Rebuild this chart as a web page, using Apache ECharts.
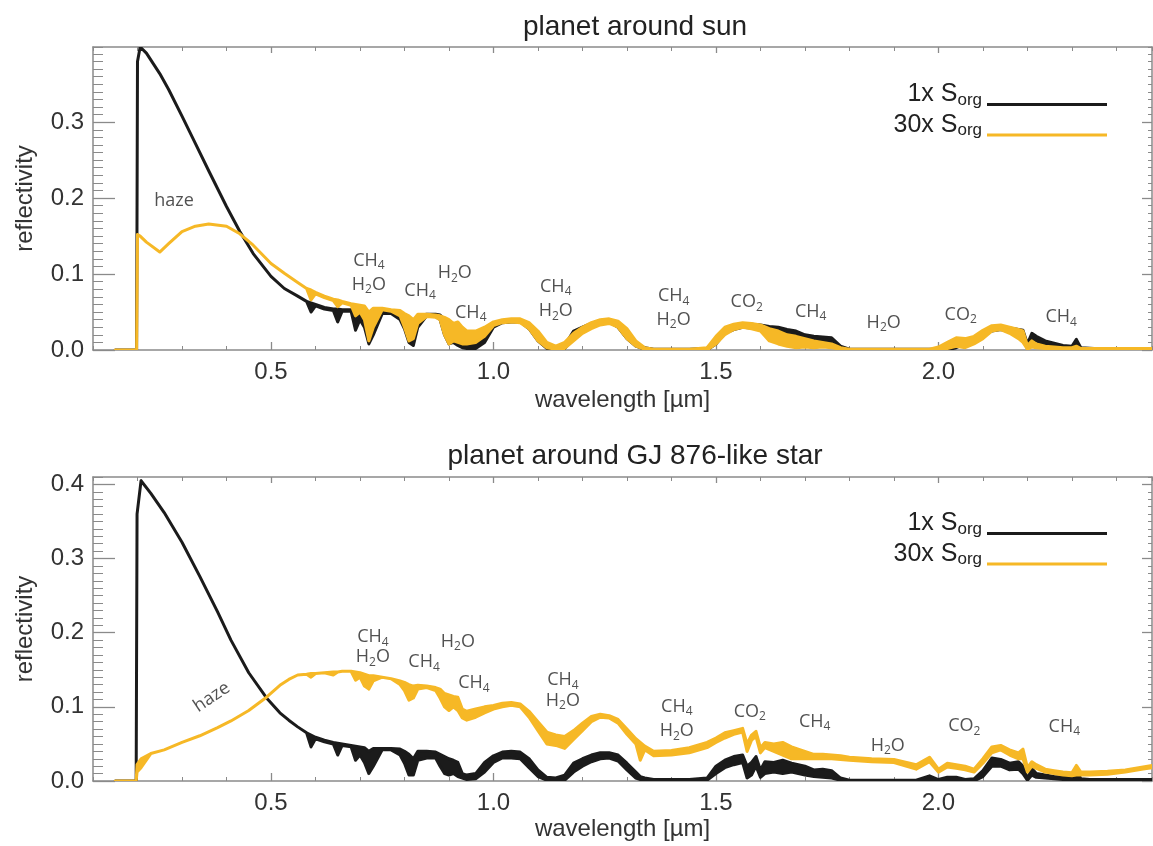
<!DOCTYPE html>
<html><head><meta charset="utf-8">
<script src="https://cdn.jsdelivr.net/npm/echarts@6/dist/echarts.min.js"></script>
<style>html,body{margin:0;padding:0;background:#fff}#c{width:1153px;height:846px}</style>
</head><body><div id="c"></div><script>
// ---------- data ----------
const xMajorTicks = [0.5, 1.0, 1.5, 2.0];
const yTicksTop = [0.0, 0.1, 0.2, 0.3];
const yTicksBottom = [0.0, 0.1, 0.2, 0.3, 0.4];
const legendNames = ['1x', '30x'];

// planet around sun
const lamTop = [
 0.15,0.198,0.2,0.206,0.22,0.25,0.27,0.3,0.33,0.36,
 0.4,0.43,0.46,0.5,0.53,0.56,0.58,0.59,0.6,0.62,
 0.64,0.65,0.66,0.68,0.69,0.70,0.71,0.72,0.73,0.75,
 0.77,0.79,0.80,0.81,0.82,0.83,0.85,0.87,0.88,0.89,
 0.90,0.91,0.92,0.93,0.94,0.96,0.98,1.00,1.02,1.04,
 1.06,1.08,1.10,1.12,1.14,1.16,1.18,1.20,1.22,1.24,
 1.26,1.28,1.30,1.32,1.34,1.36,1.40,1.44,1.48,1.50,
 1.52,1.54,1.56,1.58,1.60,1.62,1.64,1.66,1.68,1.70,
 1.72,1.74,1.76,1.78,1.80,1.85,1.90,1.95,1.98,2.00,
 2.02,2.04,2.06,2.08,2.10,2.12,2.14,2.16,2.18,2.19,
 2.20,2.21,2.22,2.24,2.26,2.28,2.30,2.31,2.32,2.35,
 2.40,2.45,2.48];
const blackTopHi = [
 0,0,0.38,0.399,0.391,0.364,0.343,0.308,0.272,0.236,
 0.189,0.156,0.127,0.097,0.081,0.071,0.064,0.062,0.060,0.056,
 0.054,0.054,0.053,0.053,0.053,0.052,0.050,0.040,0.045,0.050,
 0.050,0.049,0.045,0.040,0.035,0.045,0.047,0.047,0.046,0.040,
 0.035,0.030,0.025,0.010,0.006,0.006,0.020,0.035,0.039,0.040,
 0.040,0.033,0.018,0.006,0.003,0.006,0.025,0.030,0.035,0.039,
 0.040,0.035,0.020,0.009,0.003,0.001,0.001,0.001,0.002,0.015,
 0.028,0.032,0.035,0.034,0.033,0.031,0.030,0.027,0.025,0.020,
 0.018,0.017,0.016,0.005,0.001,0.001,0.001,0.001,0.001,0.001,
 0.003,0.008,0.014,0.016,0.024,0.030,0.031,0.029,0.027,0.026,
 0.008,0.022,0.018,0.012,0.009,0.006,0.005,0.014,0.003,0.002,
 0.002,0.002,0.002];
const blackTopLo = [
 0,0,0.38,0.399,0.391,0.364,0.343,0.308,0.272,0.236,
 0.189,0.156,0.127,0.097,0.081,0.071,0.064,0.050,0.058,0.054,
 0.052,0.037,0.051,0.051,0.026,0.040,0.030,0.008,0.020,0.048,
 0.048,0.040,0.028,0.010,0.006,0.030,0.045,0.044,0.040,0.020,
 0.008,0.010,0.006,0.003,0.002,0.002,0.010,0.030,0.036,0.037,
 0.037,0.028,0.012,0.002,0.001,0.002,0.015,0.025,0.030,0.035,
 0.037,0.030,0.015,0.005,0.001,0,0,0,0,0.008,
 0.022,0.027,0.030,0.029,0.028,0.025,0.022,0.018,0.015,0.012,
 0.012,0.010,0.010,0.002,0,0,0,0,0,0,
 0,0.003,0.008,0.010,0.018,0.025,0.027,0.024,0.020,0.015,
 0.002,0.015,0.012,0.007,0.005,0.003,0.002,0.004,0.001,0,
 0,0,0];
const orangeTopHi = [
 0,0,0.152,0.150,0.142,0.129,0.140,0.156,0.163,0.166,
 0.163,0.153,0.138,0.114,0.101,0.089,0.081,0.079,0.076,0.071,
 0.067,0.066,0.064,0.061,0.060,0.059,0.058,0.050,0.055,0.055,
 0.053,0.052,0.048,0.045,0.040,0.047,0.047,0.046,0.045,0.043,
 0.040,0.035,0.037,0.030,0.025,0.025,0.030,0.037,0.040,0.041,
 0.041,0.036,0.025,0.010,0.005,0.010,0.022,0.030,0.036,0.040,
 0.041,0.038,0.028,0.012,0.003,0.001,0.001,0.001,0.003,0.018,
 0.030,0.034,0.036,0.035,0.033,0.028,0.025,0.020,0.018,0.015,
 0.012,0.010,0.008,0.003,0.001,0.001,0.001,0.001,0.001,0.004,
 0.010,0.016,0.015,0.018,0.026,0.032,0.033,0.030,0.027,0.025,
 0.006,0.012,0.008,0.005,0.004,0.003,0.003,0.005,0.002,0.002,
 0.002,0.002,0.002];
const orangeTopLo = [
 0,0,0.152,0.150,0.142,0.129,0.140,0.156,0.163,0.166,
 0.163,0.153,0.138,0.114,0.101,0.089,0.081,0.066,0.074,0.069,
 0.065,0.057,0.062,0.059,0.045,0.050,0.040,0.012,0.030,0.053,
 0.051,0.045,0.030,0.012,0.015,0.035,0.044,0.043,0.040,0.020,
 0.008,0.012,0.010,0.008,0.008,0.010,0.018,0.032,0.036,0.037,
 0.036,0.028,0.012,0.003,0.001,0.002,0.012,0.022,0.028,0.033,
 0.035,0.030,0.015,0.005,0.001,0,0,0,0,0.008,
 0.020,0.027,0.030,0.028,0.025,0.012,0.008,0.005,0.003,0.004,
 0.003,0.004,0.003,0.001,0,0,0,0,0,0,
 0.002,0.005,0.003,0.008,0.015,0.025,0.027,0.022,0.015,0.010,
 0.001,0.004,0.003,0.002,0.001,0.001,0.001,0.001,0.001,0,
 0,0,0];

// planet around GJ 876-like star
const lamBot = [
 0.15,0.197,0.199,0.208,0.23,0.26,0.30,0.34,0.38,0.41,
 0.45,0.49,0.52,0.54,0.56,0.58,0.59,0.60,0.62,0.64,
 0.65,0.66,0.68,0.69,0.70,0.71,0.72,0.73,0.75,0.77,
 0.79,0.80,0.81,0.82,0.83,0.85,0.87,0.88,0.89,0.90,
 0.91,0.92,0.93,0.94,0.96,0.98,1.00,1.02,1.04,1.06,
 1.08,1.10,1.12,1.14,1.16,1.18,1.20,1.22,1.24,1.26,
 1.28,1.30,1.32,1.33,1.34,1.36,1.40,1.44,1.48,1.50,
 1.52,1.54,1.56,1.57,1.58,1.59,1.60,1.61,1.63,1.65,
 1.67,1.70,1.72,1.74,1.76,1.78,1.80,1.85,1.90,1.95,
 1.98,2.00,2.02,2.04,2.06,2.08,2.10,2.12,2.14,2.16,
 2.18,2.19,2.20,2.21,2.22,2.24,2.26,2.28,2.30,2.31,
 2.32,2.34,2.38,2.42,2.46,2.48];
const blackBotHi = [
 0,0,0.36,0.405,0.388,0.362,0.322,0.276,0.228,0.190,
 0.146,0.112,0.092,0.082,0.073,0.065,0.062,0.059,0.055,0.052,
 0.051,0.050,0.048,0.047,0.046,0.045,0.040,0.044,0.044,0.044,
 0.043,0.040,0.036,0.030,0.040,0.040,0.039,0.036,0.033,0.030,
 0.028,0.025,0.010,0.008,0.010,0.025,0.034,0.039,0.040,0.039,
 0.030,0.015,0.005,0.004,0.008,0.024,0.030,0.035,0.038,0.038,
 0.035,0.024,0.012,0.006,0.004,0.002,0.002,0.002,0.004,0.020,
 0.028,0.033,0.035,0.020,0.025,0.033,0.015,0.026,0.025,0.028,
 0.024,0.020,0.015,0.016,0.014,0.004,0.001,0.001,0.001,0.001,
 0.007,0.002,0.005,0.005,0.002,0.003,0.014,0.031,0.029,0.024,
 0.026,0.020,0.003,0.017,0.010,0.008,0.006,0.005,0.004,0.015,
 0.003,0.002,0.002,0.002,0.002,0.002];
const blackBotLo = [
 0,0,0.36,0.405,0.388,0.362,0.322,0.276,0.228,0.190,
 0.146,0.112,0.092,0.082,0.073,0.065,0.046,0.057,0.053,0.050,
 0.035,0.048,0.046,0.028,0.035,0.025,0.010,0.020,0.042,0.042,
 0.035,0.024,0.008,0.008,0.028,0.031,0.031,0.020,0.010,0.008,
 0.010,0.006,0.004,0.002,0.003,0.012,0.025,0.031,0.031,0.030,
 0.018,0.006,0.001,0.001,0.001,0.012,0.020,0.026,0.030,0.031,
 0.027,0.015,0.004,0.002,0.001,0,0,0,0.001,0.010,
 0.018,0.022,0.025,0.004,0.008,0.020,0.005,0.010,0.012,0.010,
 0.012,0.008,0.006,0.005,0.004,0.001,0,0,0,0,
 0.001,0,0.002,0.002,0,0,0.006,0.020,0.020,0.015,
 0.016,0.010,0.001,0.008,0.005,0.004,0.003,0.002,0.001,0.002,
 0.001,0,0,0,0,0];
const orangeBotHi = [
 0,0,0.022,0.030,0.037,0.042,0.052,0.061,0.072,0.081,
 0.095,0.113,0.129,0.137,0.143,0.144,0.145,0.145,0.146,0.147,
 0.147,0.148,0.148,0.147,0.146,0.144,0.142,0.142,0.140,0.138,
 0.135,0.133,0.130,0.128,0.129,0.128,0.126,0.124,0.118,0.116,
 0.114,0.113,0.097,0.094,0.097,0.100,0.102,0.105,0.106,0.104,
 0.094,0.080,0.066,0.062,0.060,0.068,0.078,0.087,0.090,0.088,
 0.083,0.070,0.057,0.052,0.047,0.040,0.041,0.045,0.052,0.058,
 0.065,0.068,0.071,0.050,0.062,0.067,0.045,0.052,0.050,0.052,
 0.046,0.040,0.036,0.036,0.035,0.034,0.032,0.030,0.029,0.022,
 0.032,0.016,0.024,0.022,0.020,0.016,0.030,0.046,0.048,0.042,
 0.038,0.043,0.018,0.026,0.022,0.016,0.014,0.012,0.011,0.021,
 0.012,0.012,0.013,0.015,0.019,0.021];
const orangeBotLo = [
 0,0,0.012,0.018,0.037,0.042,0.052,0.061,0.072,0.081,
 0.095,0.113,0.129,0.137,0.143,0.144,0.140,0.145,0.146,0.143,
 0.147,0.148,0.148,0.136,0.140,0.128,0.124,0.135,0.140,0.138,
 0.130,0.122,0.109,0.112,0.124,0.126,0.122,0.112,0.100,0.095,
 0.100,0.095,0.085,0.082,0.086,0.092,0.097,0.100,0.102,0.100,
 0.086,0.068,0.050,0.048,0.044,0.056,0.068,0.080,0.086,0.085,
 0.078,0.063,0.050,0.028,0.042,0.034,0.035,0.038,0.045,0.052,
 0.058,0.063,0.066,0.040,0.055,0.060,0.038,0.045,0.040,0.035,
 0.030,0.030,0.030,0.030,0.030,0.029,0.028,0.026,0.025,0.016,
 0.026,0.012,0.019,0.017,0.015,0.012,0.024,0.038,0.042,0.035,
 0.030,0.030,0.012,0.020,0.017,0.012,0.010,0.008,0.007,0.008,
 0.008,0.008,0.009,0.012,0.016,0.018];

// annotations
const annTopLam  = [0.282, 0.72, 0.72, 0.835, 0.913, 0.949, 1.14, 1.14, 1.405, 1.405, 1.569, 1.713, 1.877, 2.05, 2.276];
const annTopVal  = [0.196, 0.118, 0.086, 0.078, 0.101, 0.049, 0.083, 0.051, 0.071, 0.040, 0.063, 0.050, 0.036, 0.046, 0.043];
const annTopText = ['haze','CH{s|4}','H{s|2}O','CH{s|4}','H{s|2}O','CH{s|4}','CH{s|4}','H{s|2}O','CH{s|4}','H{s|2}O','CO{s|2}','CH{s|4}','H{s|2}O','CO{s|2}','CH{s|4}'];
const annBotLam  = [0.367, 0.729, 0.729, 0.844, 0.92, 0.956, 1.156, 1.156, 1.412, 1.412, 1.576, 1.722, 1.886, 2.058, 2.283];
const annBotVal  = [0.113, 0.194, 0.167, 0.160, 0.188, 0.132, 0.136, 0.108, 0.100, 0.067, 0.093, 0.080, 0.048, 0.074, 0.073];
const annBotText = ['haze','CH{s|4}','H{s|2}O','CH{s|4}','H{s|2}O','CH{s|4}','CH{s|4}','H{s|2}O','CH{s|4}','H{s|2}O','CO{s|2}','CH{s|4}','H{s|2}O','CO{s|2}','CH{s|4}'];
const annBotRot  = [34,0,0,0,0,0,0,0,0,0,0,0,0,0,0];

// ---------- styling / build ----------
const X_MIN = 0.1, X_MAX = 2.48;
const AX = '#8a8a8a';
const FONT = 'Liberation Sans';
const BLACK = '#1b1b1b';
const ORANGE = '#F6B826';
const ANN = '#262626';

function xMajor(gi, pos, labels, gap) {
  return { type:'value', gridIndex:gi, position:pos, min:X_MIN, max:X_MAX,
    axisLine:{show:true, onZero:false, lineStyle:{color:AX, width:1.5}},
    axisTick:{show:true, inside:true, length: pos==='bottom'?8:6, customValues:xMajorTicks, lineStyle:{color:AX, width:1.3}},
    axisLabel:{show:labels, customValues:xMajorTicks, formatter:v=>v.toFixed(1), fontSize:24, fontFamily:FONT, color:'#333', margin:10},
    splitLine:{show:false},
    name: labels ? 'wavelength [\u00b5m]' : '', nameLocation:'middle', nameGap:gap,
    nameTextStyle:{fontSize:24, fontFamily:FONT, color:'#333'} };
}
function xMinor(gi, pos) {
  return { type:'value', gridIndex:gi, position:pos, min:X_MIN, max:X_MAX, interval:0.1,
    axisLine:{show:false, onZero:false}, axisTick:{show:true, inside:true, length:4, lineStyle:{color:AX, width:1}},
    axisLabel:{show:false}, splitLine:{show:false} };
}
function yMajor(gi, pos, max, ticks, labels) {
  return { type:'value', gridIndex:gi, position:pos, min:0, max:max,
    axisLine:{show:true, onZero:false, lineStyle:{color:AX, width:1.5}},
    axisTick:{show:true, inside:true, length: pos==='left'?22:10, customValues:ticks, lineStyle:{color:AX, width:1.3}},
    axisLabel:{show:labels, customValues:ticks, formatter:v=>v.toFixed(1), fontSize:24, fontFamily:FONT, color:'#333', margin:9},
    splitLine:{show:false},
    name: labels ? 'reflectivity' : '', nameLocation:'middle', nameGap:56,
    nameTextStyle:{fontSize:24, fontFamily:FONT, color:'#333'} };
}
function yMinor(gi, pos, max) {
  return { type:'value', gridIndex:gi, position:pos, min:0, max:max, interval:0.01,
    axisLine:{show:false, onZero:false}, axisTick:{show:true, inside:true, length: pos==='left'?10:4, lineStyle:{color:AX, width:1}},
    axisLabel:{show:false}, splitLine:{show:false} };
}
function band(name, lam, hi, lo, color, ai, z) {
  return { type:'custom', name:name, xAxisIndex:ai, yAxisIndex:ai, z:z, clip:true,
    itemStyle:{color:color}, silent:true,
    data:[[lam[0], hi[0]]],
    renderItem:function(params, api){
      const pts = [];
      for (let i = 0; i < lam.length; i++) pts.push(api.coord([lam[i], hi[i]]));
      for (let i = lam.length - 1; i >= 0; i--) pts.push(api.coord([lam[i], lo[i]]));
      return { type:'polygon', shape:{points:pts},
        style:{fill:color, stroke:color, lineWidth:3, lineJoin:'round'} };
    } };
}
function annotations(lam, val, txt, rot, ai) {
  return { type:'scatter', xAxisIndex:ai, yAxisIndex:ai, symbolSize:1, silent:true, z:10,
    itemStyle:{color:'rgba(0,0,0,0)'},
    data: lam.map((l, i) => ({ value:[l, val[i]],
      label:{ formatter: txt[i], rotate: rot ? rot[i] : 0 } })),
    label:{ show:true, position:'inside', color:ANN, fontFamily:'Open Sans', fontSize:18, lineHeight:22,
      rich:{ s:{fontFamily:'Open Sans', fontSize:12, lineHeight:8, verticalAlign:'bottom', color:ANN} } } };
}
function legendAt(top) {
  return { data:legendNames, right:41, top:top, orient:'vertical', align:'right', icon:'rect',
    itemWidth:120, itemHeight:3, itemGap:4, selectedMode:false,
    formatter: n => '{m|' + n + ' S}{s|org}',
    textStyle:{ padding:[0,0,20,0], rich:{
      m:{fontFamily:FONT, fontSize:25, lineHeight:28, color:'#222'},
      s:{fontFamily:FONT, fontSize:17, lineHeight:10, verticalAlign:'bottom', color:'#222'} } } };
}

const option = {
  animation:false,
  backgroundColor:'#fff',
  textStyle:{fontFamily:FONT},
  title:[
    {text:'planet around sun', left:630, top:8, textAlign:'center',
     textStyle:{fontSize:28, fontWeight:'normal', fontFamily:FONT, color:'#222'}},
    {text:'planet around GJ 876-like star', left:630, top:437, textAlign:'center',
     textStyle:{fontSize:28, fontWeight:'normal', fontFamily:FONT, color:'#222'}}
  ],
  legend:[legendAt(77), legendAt(506)],
  grid:[
    {left:93, right:1, top:47, height:303},
    {left:93, right:1, top:47, height:303},
    {left:93, right:1, top:477, height:304},
    {left:93, right:1, top:477, height:304}
  ],
  xAxis:[
    xMajor(0,'bottom',true,38), xMajor(0,'top',false,0), xMinor(1,'bottom'), xMinor(1,'top'),
    xMajor(2,'bottom',true,36), xMajor(2,'top',false,0), xMinor(3,'bottom'), xMinor(3,'top')
  ],
  yAxis:[
    yMajor(0,'left',0.399,yTicksTop,true), yMajor(0,'right',0.399,yTicksTop,false), yMinor(1,'left',0.399), yMinor(1,'right',0.399),
    yMajor(2,'left',0.41,yTicksBottom,true), yMajor(2,'right',0.41,yTicksBottom,false), yMinor(3,'left',0.41), yMinor(3,'right',0.41)
  ],
  series:[
    band('1x', lamTop, blackTopHi, blackTopLo, BLACK, 0, 2),
    band('30x', lamTop, orangeTopHi, orangeTopLo, ORANGE, 0, 3),
    band('1x', lamBot, blackBotHi, blackBotLo, BLACK, 4, 2),
    band('30x', lamBot, orangeBotHi, orangeBotLo, ORANGE, 4, 3),
    annotations(annTopLam, annTopVal, annTopText, null, 0),
    annotations(annBotLam, annBotVal, annBotText, annBotRot, 4)
  ]
};
const chart = echarts.init(document.getElementById('c'), null, {renderer:'canvas'});
chart.setOption(option);
</script></body></html>
